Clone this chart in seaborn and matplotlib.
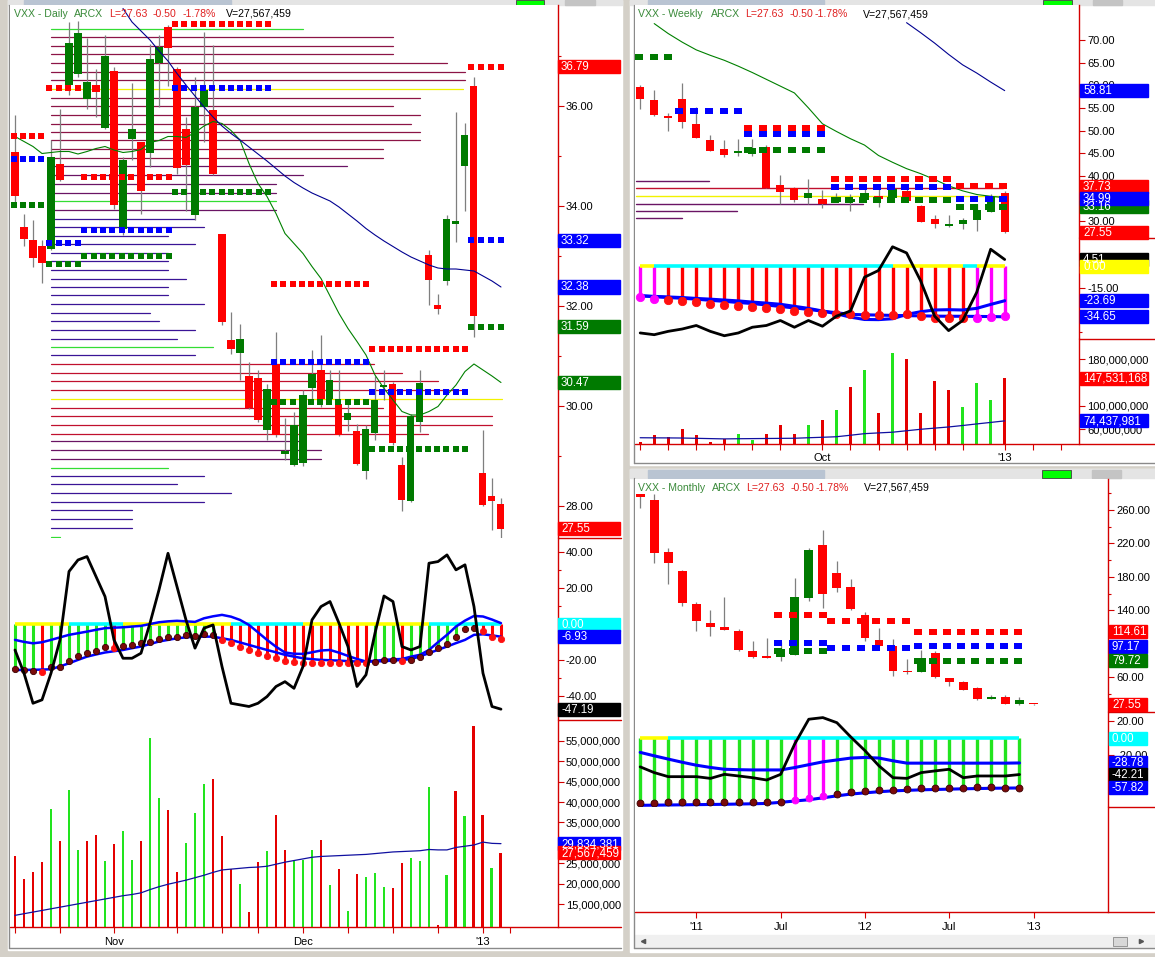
import numpy as np
import matplotlib
matplotlib.use("Agg")
import matplotlib.pyplot as plt
import seaborn as sns
from matplotlib.patches import Rectangle
from matplotlib.lines import Line2D
from matplotlib.ticker import FuncFormatter

# ---------------- daily ----------------
d_open = [35.09, 33.59, 33.33, 33.20, 33.15, 34.84, 36.42, 36.65, 36.15, 36.42,
          35.57, 36.71, 33.55, 35.35, 35.29, 35.07, 36.87, 37.59, 36.75, 35.54,
          33.82, 35.99, 35.92, 33.45, 31.32, 31.07, 30.60, 30.56, 29.52, 30.85,
          29.04, 28.83, 28.87, 30.37, 30.72, 30.15, 30.04, 29.72, 29.50, 28.71,
          29.47, 30.38, 30.44, 28.82, 28.11, 29.69, 33.02, 32.02, 32.50, 33.65,
          34.81, 36.40, 28.67, 28.20, 28.04]
d_high = [35.82, 33.85, 33.72, 33.32, 35.32, 35.95, 37.69, 37.71, 37.37, 36.75,
          37.42, 36.79, 34.99, 36.47, 35.29, 37.25, 37.42, 37.62, 36.79, 35.79,
          36.59, 37.49, 37.22, 33.45, 31.89, 31.64, 30.89, 30.72, 30.45, 31.49,
          29.77, 29.89, 30.32, 31.13, 31.42, 30.72, 30.72, 30.05, 29.65, 29.62,
          30.60, 30.72, 30.49, 28.99, 29.85, 30.72, 33.13, 32.25, 33.82, 35.89,
          35.67, 36.59, 29.53, 28.57, 28.17]
d_low = [34.05, 33.20, 32.79, 32.47, 33.13, 34.50, 36.22, 36.59, 35.95, 35.79,
         35.55, 33.95, 33.42, 34.92, 33.85, 34.79, 35.99, 36.40, 34.65, 33.91,
         33.73, 35.29, 34.62, 31.62, 31.05, 30.52, 29.95, 29.69, 29.32, 29.38,
         28.93, 28.81, 28.80, 30.15, 29.99, 30.12, 29.40, 29.50, 28.82, 28.55,
         29.32, 30.12, 29.22, 27.91, 28.09, 29.49, 32.02, 31.85, 32.42, 33.29,
         33.91, 31.39, 28.00, 27.52, 27.37]
d_close = [34.21, 33.35, 32.97, 32.87, 34.99, 34.52, 37.27, 37.47, 36.49, 36.29,
           37.00, 34.02, 34.92, 35.55, 34.31, 36.94, 37.19, 37.17, 34.77, 34.82,
           35.99, 36.33, 34.65, 31.69, 31.14, 31.34, 29.97, 29.73, 30.35, 29.42,
           29.11, 29.62, 30.23, 30.65, 30.15, 30.53, 29.42, 29.87, 28.84, 29.55,
           30.12, 30.42, 29.27, 28.12, 29.80, 30.47, 32.52, 31.95, 33.75, 33.71,
           35.42, 31.80, 28.02, 28.10, 27.55]
d_ma_fast = [35.39, 35.29, 35.19, 35.05, 35.07, 35.09, 35.09, 35.04, 35.09, 35.15,
             35.19, 35.12, 35.07, 35.09, 35.13, 35.27, 35.31, 35.39, 35.39, 35.37,
             35.47, 35.60, 35.69, 35.65, 35.51, 35.32, 34.85, 34.45, 34.19, 33.85,
             33.45, 33.25, 33.05, 32.79, 32.55, 32.20, 31.85, 31.55, 31.29, 31.02,
             30.62, 30.35, 30.12, 29.89, 29.82, 29.82, 29.89, 29.99, 30.22, 30.42,
             30.69, 30.84, 30.72, 30.60, 30.47]
# slow average is only on screen for the last 43 sessions
d_ma_slow = [37.95, 37.68, 37.50, 37.32, 37.10, 36.90, 36.65, 36.42, 36.20, 35.98,
             35.78, 35.60, 35.45, 35.32, 35.18, 35.04, 34.90, 34.75, 34.60, 34.47,
             34.36, 34.26, 34.18, 34.10, 33.98, 33.84, 33.70, 33.55, 33.42, 33.30,
             33.19, 33.08, 32.98, 32.90, 32.82, 32.76, 32.74, 32.74, 32.72, 32.70,
             32.60, 32.50, 32.38]
d_vol = [26.9, 21.2, 22.9, 25.3, 38.3, 30.5, 43.0, 28.3, 30.5, 32.0,
         25.6, 29.8, 33.0, 25.8, 30.5, 55.7, 41.0, 38.1, 22.9, 30.0,
         37.3, 44.4, 45.6, 31.7, 23.6, 20.0, 13.0, 25.3, 28.0, 36.8,
         28.3, 25.6, 25.8, 28.3, 30.7, 19.6, 23.6, 13.4, 22.4, 21.7,
         22.7, 19.2, 19.0, 25.1, 26.3, 25.6, 43.7, 10.0, 22.2, 42.7,
         36.6, 58.7, 36.8, 23.9, 27.57]
d_vol_ma = [12.3, 12.7, 13.1, 13.5, 13.9, 14.3, 14.7, 15.1, 15.5, 15.9,
            16.3, 16.7, 17.1, 17.4, 17.8, 18.6, 19.3, 19.9, 20.4, 20.9,
            21.5, 22.1, 22.8, 23.4, 23.6, 23.8, 24.0, 24.1, 24.3, 24.8,
            25.3, 25.7, 26.1, 26.5, 26.7, 26.8, 26.9, 27.0, 27.1, 27.2,
            27.4, 27.6, 27.8, 27.9, 28.0, 28.1, 28.4, 28.3, 28.3, 28.9,
            29.2, 29.5, 30.2, 29.9, 29.83]
d_osc = [-25.0, -25.4, -25.9, -26.7, -23.9, -23.5, -20.2, -17.6, -16.1, -14.8,
         -12.8, -13.3, -12.0, -11.7, -10.6, -9.6, -8.1, -6.9, -6.9, -5.9,
         -6.3, -5.4, -6.1, -8.7, -10.6, -12.4, -14.3, -16.1, -17.4, -18.9,
         -20.4, -20.9, -21.3, -21.3, -21.3, -21.3, -21.3, -21.3, -21.7, -21.7,
         -20.9, -19.8, -19.8, -20.2, -19.8, -18.0, -15.2, -13.1, -10.9, -6.9,
         -2.8, -2.2, -3.5, -6.9, -8.3]
d_osc_kind = ['g', 'g', 'g', 'r', 'g', 'g', 'g', 'g', 'g', 'g',
              'g', 'r', 'g', 'g', 'g', 'g', 'g', 'g', 'g', 'g',
              'g', 'g', 'g', 'r', 'r', 'r', 'r', 'r', 'r', 'r',
              'r', 'r', 'r', 'r', 'r', 'r', 'r', 'r', 'r', 'r',
              'g', 'g', 'g', 'r', 'g', 'g', 'g', 'g', 'g', 'g',
              'g', 'g', 'r', 'r', 'r']
d_sig1 = [-8.7, -9.8, -10.6, -10.0, -8.7, -7.3, -5.9, -5.0, -4.1, -3.1,
          -2.2, -1.9, -1.7, -1.3, -0.9, 0.1, 1.1, 1.6, 1.9, 1.6,
          1.3, 3.3, 4.4, 5.2, 4.2, 2.4, -0.4, -4.5, -8.7, -12.5,
          -15.7, -16.4, -16.5, -15.6, -14.6, -14.3, -15.8, -17.6, -19.3, -20.7,
          -20.3, -19.8, -19.5, -19.3, -18.0, -17.0, -14.3, -10.0, -5.9, -1.3,
          2.0, 4.6, 4.3, 2.6, 0.6]
d_sig2 = [-25.4, -25.4, -25.3, -25.2, -25.0, -23.4, -21.7, -19.8, -18.0, -16.8,
          -15.7, -15.0, -14.3, -13.3, -12.4, -11.0, -9.6, -8.7, -7.8, -7.3,
          -6.9, -6.9, -6.9, -7.8, -8.7, -10.1, -11.5, -12.9, -14.3, -15.6,
          -17.0, -18.0, -18.9, -19.4, -19.8, -20.0, -20.2, -20.5, -20.7, -20.7,
          -20.7, -20.5, -20.2, -19.8, -19.4, -17.8, -16.1, -14.2, -12.4, -10.5,
          -8.7, -5.9, -5.6, -6.2, -6.93]
d_cci = [-14.3, -27.2, -43.9, -42.0, -27.2, -8.7, 29.3, 35.7, 37.6, 26.5,
         15.4, -8.7, -18.9, -18.9, -16.1, 0.6, 19.1, 39.4, 20.9, 2.4,
         -13.3, -2.2, -0.4, -23.5, -43.9, -44.8, -45.7, -43.9, -40.2, -34.6,
         -31.9, -35.6, -23.5, 2.4, 9.8, 12.6, 0.6, -12.4, -34.6, -28.1,
         -5.0, 15.7, 12.6, -12.4, -14.3, -12.4, 33.9, 34.8, 38.5, 30.2,
         33.0, 9.8, -27.2, -45.7, -47.19]
d_zero_kind = ['y', 'y', 'y', 'y', 'y', 'y', 'y', 'c', 'c', 'c',
               'c', 'c', 'c', 'y', 'y', 'y', 'y', 'y', 'y', 'y',
               'y', 'y', 'y', 'y', 'y', 'c', 'c', 'c', 'c', 'c',
               'c', 'c', 'c', 'y', 'y', 'y', 'y', 'y', 'y', 'y',
               'y', 'y', 'y', 'y', 'y', 'y', 'y', 'c', 'c', 'c',
               'c', 'c', 'c', 'c', 'c']
# weekly pivot levels shown on the daily chart: start bar, end bar, R, P, S
d_piv_start = [-0.1, 3.8, 7.7, 17.8, 28.8, 39.7, 50.7]
d_piv_end = [2.9, 7.0, 17.1, 28.1, 39.0, 50.0, 54.0]
d_piv_r = [35.40, 36.37, 34.58, 37.64, 32.45, 31.14, 36.79]
d_piv_p = [34.94, 33.27, 33.52, 36.37, 30.88, 30.29, 33.32]
d_piv_s = [34.02, 32.85, 33.00, 34.28, 30.09, 29.14, 31.59]
# volume at price
d_vap_price = [37.54, 37.39, 37.21, 37.04, 36.86, 36.69, 36.52, 36.34, 36.17, 36.00,
               35.82, 35.65, 35.49, 35.32, 35.14, 34.97, 34.80, 34.62, 34.45, 34.27,
               34.10, 33.93, 33.75, 33.59, 33.41, 33.24, 33.07, 32.90, 32.73, 32.55,
               32.39, 32.22, 32.04, 31.87, 31.71, 31.52, 31.35, 31.19, 31.02, 30.84,
               30.67, 30.50, 30.32, 30.15, 29.97, 29.80, 29.63, 29.45, 29.30, 29.12,
               28.94, 28.77, 28.60, 28.44, 28.27, 28.09, 27.92, 27.75, 27.57, 27.39]
d_vap_len = [28, 38, 38, 38, 44, 46, 46, 45.8, 41, 38,
             41, 40, 41, 41, 36.9, 36.9, 32.9, 28, 25, 25,
             25, 25, 16, 17, 13, 16, 13, 13, 13, 15,
             13, 13, 17, 11, 12, 16, 14, 18, 16, 35.9,
             39, 43, 46, 50.1, 36.9, 49, 49, 41.9, 28, 30,
             30, 13, 17, 14, 20, 17, 9, 9, 9, 1]
d_vap_kind = ['g', 'r', 'r', 'r', 'r', 'r', 'r', 'y', 'r', 'r',
              'r', 'r', 'r', 'r', 'r', 'r', 'm', 'm', 'm', 'm',
              'g', 'm', 'b', 'b', 'b', 'b', 'b', 'b', 'b', 'b',
              'b', 'b', 'b', 'b', 'b', 'b', 'b', 'g', 'b', 'R',
              'R', 'R', 'R', 'y', 'R', 'R', 'R', 'R', 'm', 'm',
              'm', 'g', 'b', 'b', 'b', 'b', 'b', 'b', 'b', 'g']
d_ticks = [0, 5, 11, 18, 23, 27, 32, 37, 42, 47, 52, 55]
d_tick_labels = {11: 'Nov', 32: 'Dec', 52: "'13"}

# ---------------- weekly ----------------
w_open = [59.57, 56.66, 53.30, 57.03, 51.45, 48.02, 45.86, 45.11, 44.89, 46.38,
          38.03, 37.29, 35.05, 34.98, 34.23, 34.23, 34.60, 35.57, 35.20, 36.69,
          33.34, 30.50, 28.87, 29.47, 30.36, 32.00, 36.32]
w_high = [60.16, 59.05, 53.83, 60.54, 55.10, 48.99, 47.87, 48.24, 48.09, 46.90,
          40.20, 37.58, 39.30, 36.84, 36.32, 35.95, 37.06, 37.06, 37.44, 37.06,
          33.49, 31.47, 31.47, 30.73, 33.71, 35.95, 36.69]
w_low = [54.80, 53.30, 49.88, 50.63, 48.46, 45.48, 44.14, 44.37, 44.37, 37.44,
         33.70, 34.23, 33.86, 32.97, 34.23, 32.22, 34.60, 33.19, 34.83, 34.45,
         29.84, 28.50, 28.72, 28.27, 27.75, 32.00, 27.38]
w_close = [56.96, 53.46, 52.71, 51.82, 48.46, 45.48, 44.52, 45.26, 46.23, 37.44,
           36.54, 34.60, 36.17, 33.71, 35.35, 34.80, 36.32, 34.83, 37.06, 34.45,
           29.84, 29.39, 29.30, 30.36, 32.44, 35.35, 27.55]
w_ma_fast = [73.6, 71.4, 69.5, 67.8, 66.6, 65.5, 64.2, 62.8, 61.3, 59.8,
             58.3, 55.0, 51.5, 49.8, 48.2, 46.8, 44.5, 43.0, 41.6, 40.5,
             39.2, 37.8, 36.7, 35.9, 35.5, 35.2]
w_ma_slow = [73.8, 71.6, 69.3, 66.8, 64.5, 62.7, 60.7, 58.81]
w_vol = [38.0, 49.6, 46.7, 60.0, 49.6, 38.6, 42.6, 51.3, 40.9, 51.3,
         67.0, 51.3, 67.0, 75.7, 93.0, 132.5, 162.6, 87.2, 190.4, 180.0,
         87.2, 142.9, 127.8, 97.7, 139.4, 110.4, 147.53]
w_vol_ma = [45.5, 45.3, 45.2, 45.0, 44.5, 44.0, 43.5, 43.8, 44.0, 44.2,
            44.4, 44.6, 45.5, 46.3, 47.2, 49.8, 52.5, 53.8, 55.0, 57.5,
            60.0, 62.0, 64.0, 66.5, 69.2, 71.8, 74.44]
w_osc = [-21.0, -22.2, -23.1, -23.8, -24.5, -25.6, -26.3, -27.3, -28.2, -28.9,
         -29.6, -30.7, -31.6, -32.3, -33.0, -33.0, -33.3, -33.5, -33.3, -33.0,
         -34.2, -35.3, -35.6, -35.8, -35.6, -34.9, -34.4]
w_osc_kind = ['m', 'm', 'r', 'r', 'r', 'r', 'r', 'r', 'r', 'r',
              'r', 'r', 'r', 'r', 'r', 'r', 'r', 'r', 'r', 'r',
              'r', 'r', 'r', 'r', 'm', 'm', 'm']
w_sig1 = [-20.3, -20.7, -21.1, -21.5, -22.1, -22.6, -23.2, -23.8, -24.6, -25.3,
          -26.1, -27.5, -28.9, -30.7, -32.6, -34.9, -36.5, -36.6, -36.0, -33.0,
          -31.2, -30.0, -29.8, -30.0, -28.9, -26.2, -23.69]
w_sig2 = [-20.3, -20.9, -21.5, -22.0, -22.6, -23.4, -24.1, -24.9, -25.6, -26.6,
          -27.6, -28.6, -29.6, -30.8, -31.9, -33.0, -33.3, -33.5, -33.7, -33.9,
          -34.0, -34.2, -34.3, -34.3, -34.4, -34.5, -34.65]
w_cci = [-45.7, -46.9, -44.6, -43.0, -40.6, -44.6, -47.6, -45.7, -41.8, -40.6,
         -37.2, -41.8, -37.2, -41.1, -34.2, -30.7, -7.6, -3.0, 13.2, 9.0,
         -10.0, -34.2, -44.1, -37.2, -18.0, 11.5, 4.51]
w_zero_kind = ['y', 'y', 'c', 'c', 'c', 'c', 'c', 'c', 'c', 'c',
               'c', 'c', 'c', 'c', 'c', 'c', 'c', 'c', 'c', 'y',
               'y', 'y', 'y', 'y', 'c', 'y', 'y']
w_piv_start = [-0.1, 2.8, 7.7, 13.9, 22.8]
w_piv_end = [2.0, 7.0, 12.9, 21.9, 25.9]
w_piv_r = [np.nan, np.nan, 50.63, 39.30, 37.73]
w_piv_p = [np.nan, 54.35, 49.14, 37.66, 34.99]
w_piv_s = [66.27, np.nan, 45.78, 34.60, 33.16]
w_vap_price = [38.95, 37.23, 35.58, 33.88, 32.25, 30.75]
w_vap_len = [5.2, 26.2, 26.0, 16.2, 7.2, 3.3]
w_vap_kind = ['m', 'R', 'y', 'm', 'm', 'm']
w_ticks = [0, 2, 4, 6, 8, 10, 13, 15, 17, 19, 21, 23, 26, 28, 30]
w_tick_labels = {13: 'Oct', 26: "'13"}

# ---------------- monthly ----------------
m_open = [279.4, 271.3, 209.4, 187.5, 147.9, 124.4, 119.5, 114.7, 91.2, 85.1,
          83.9, 87.1, 155.1, 217.9, 185.1, 168.1, 134.9, 104.5, 97.2, 67.7,
          66.1, 89.2, 58.8, 53.9, 46.6, 34.5, 36.5, 28.4, 28.4]
m_high = [279.4, 279.4, 214.7, 188.3, 149.9, 139.8, 156.0, 117.5, 103.3, 107.4,
          102.5, 179.0, 214.7, 236.1, 198.5, 177.0, 137.7, 118.7, 105.3, 82.3,
          92.0, 91.2, 58.8, 55.5, 48.5, 38.5, 38.5, 36.5, 28.4]
m_low = [262.0, 196.4, 171.3, 144.6, 115.5, 109.4, 116.3, 91.2, 83.1, 83.1,
         79.0, 87.1, 151.0, 143.0, 162.0, 139.8, 103.3, 97.2, 62.0, 63.6,
         66.1, 59.6, 49.9, 44.6, 32.5, 34.0, 27.6, 26.4, 27.0]
m_close = [275.4, 208.6, 196.4, 149.1, 126.8, 119.5, 116.3, 92.0, 84.3, 83.1,
           93.2, 156.0, 212.6, 160.0, 166.1, 141.8, 106.6, 97.2, 66.9, 66.1,
           83.1, 60.8, 53.9, 44.6, 34.5, 36.5, 28.4, 32.5, 27.55]
m_osc = [-75.3, -75.3, -74.5, -74.5, -74.5, -74.5, -74.5, -74.5, -74.5, -74.5,
         -74.5, -72.2, -69.4, -67.5, -64.7, -62.4, -60.8, -60.4, -60.0, -58.8,
         -58.4, -58.0, -57.6, -57.3, -56.9, -56.9, -57.3, -57.6]
m_osc_kind = ['g', 'g', 'g', 'g', 'g', 'g', 'g', 'g', 'g', 'g',
              'g', 'm', 'm', 'm', 'g', 'g', 'g', 'g', 'g', 'g',
              'g', 'g', 'g', 'g', 'g', 'g', 'g', 'g']
m_sig1 = [-16.5, -20.5, -24.3, -28.0, -31.4, -34.0, -36.1, -36.6, -36.9, -36.9,
          -36.9, -34.1, -30.8, -27.5, -25.3, -23.1, -22.4, -23.1, -26.3, -29.0,
          -29.0, -29.0, -29.0, -29.0, -29.0, -29.0, -29.0, -28.78]
m_sig2 = [-78.0, -77.8, -77.6, -77.4, -77.2, -77.0, -76.8, -76.5, -76.2, -75.8,
          -74.5, -73.0, -71.5, -69.3, -67.0, -64.9, -63.5, -62.2, -61.2, -60.6,
          -60.0, -59.6, -59.2, -58.8, -58.5, -58.2, -58.0, -57.82]
m_cci = [-33.3, -40.0, -44.7, -44.7, -44.7, -46.7, -42.0, -43.9, -45.9, -48.6,
         -42.0, -6.7, 22.0, 23.9, 18.0, 1.2, -14.5, -32.2, -45.9, -46.7,
         -40.0, -38.0, -36.1, -45.9, -43.9, -43.9, -43.9, -42.21]
m_zero_kind = ['y', 'y', 'y', 'c', 'c', 'c', 'c', 'c', 'c', 'c',
               'c', 'c', 'c', 'c', 'c', 'c', 'c', 'c', 'c', 'c',
               'c', 'c', 'c', 'c', 'c', 'c', 'c', 'c']
m_piv_start = [9.8, 13.6, 19.8]
m_piv_end = [13.0, 18.9, 26.9]
m_piv_r = [134.1, 126.8, 114.61]
m_piv_p = [101.3, 95.2, 97.17]
m_piv_s = [91.2, np.nan, 79.72]
m_ticks = [4, 10, 16, 22, 28]
m_tick_labels = {4: "'11", 10: 'Jul', 16: "'12", 22: 'Jul', 28: "'13"}

# ---------------- style ----------------
sns.set_theme(style="white")
plt.rcParams['font.family'] = ['Liberation Sans', 'DejaVu Sans']

W, H = 1155, 957
AXRED = '#d40000'
CANDLE = {'up': '#007a00', 'dn': '#ff0000'}
VOLC = {'up': '#22e41e', 'dn': '#e40000'}
STEM = {'g': '#22e41e', 'r': '#ff0000', 'm': '#ff00ff'}
DOT = {'g': '#7a0a0a', 'r': '#ff1010', 'm': '#ff00ff'}
ZERO = {'y': '#ffff00', 'c': '#00ffff'}
VAPC = {'g': '#33dd33', 'y': '#f2f200', 'r': '#8c1446', 'R': '#c0102e',
        'm': '#6a1464', 'b': '#3a1496'}
PIVC = {'r': '#ff0000', 'p': '#0000ff', 's': '#007a00'}
BLUE = '#0000ff'
GRN_T = '#3a8a3a'
RED_T = '#e02020'

fig = plt.figure(figsize=(W / 100, H / 100), dpi=100, facecolor='#d4d0c8')


def frect(x0, y0, x1, y1, **kw):
    fig.add_artist(Rectangle((x0 / W, 1 - y1 / H), (x1 - x0) / W, (y1 - y0) / H,
                             transform=fig.transFigure, **kw))


def fline(x0, y0, x1, y1, **kw):
    fig.add_artist(Line2D([x0 / W, x1 / W], [1 - y0 / H, 1 - y1 / H],
                          transform=fig.transFigure, **kw))


def pane(x0, y0, x1, y1, xlim, ylim):
    ax = fig.add_axes([x0 / W, 1 - y1 / H, (x1 - x0) / W, (y1 - y0) / H])
    ax.set_facecolor('white')
    for s in ('left', 'top', 'bottom'):
        ax.spines[s].set_visible(False)
    ax.spines['right'].set_color(AXRED)
    ax.spines['right'].set_linewidth(1.0)
    ax.yaxis.tick_right()
    ax.tick_params(axis='y', which='both', right=True, left=False, colors=AXRED,
                   labelcolor='black', labelsize=8, length=4, width=0.8, pad=2)
    ax.tick_params(axis='y', which='minor', length=2.5)
    ax.set_xticks([])
    ax.lim = (xlim, ylim)
    return ax


def finish(ax):
    ax.set_xlim(*ax.lim[0])
    ax.set_ylim(*ax.lim[1])
    ax.set_xlabel('')
    ax.set_ylabel('')


def fmt(kind, hidden=()):
    # tick labels that sit under a value box in the reference stay blank
    def f(v, _):
        if any(abs(v - h) < 1e-9 for h in hidden):
            return ''
        return f'{v * 1e6:,.0f}' if kind == 'vol' else f'{v:.2f}'
    return FuncFormatter(f)


def candles(ax, o, h, l, c, width, minh):
    x = np.arange(len(o))
    o, h, l, c = map(np.asarray, (o, h, l, c))
    ax.vlines(x, l, h, color='#7f7f7f', lw=0.9, zorder=3)
    lo = np.minimum(o, c)
    hgt = np.maximum(np.abs(c - o), minh)
    cols = [CANDLE['up'] if cc >= oo else CANDLE['dn'] for oo, cc in zip(o, c)]
    ax.bar(x, hgt, bottom=lo, width=width, color=cols, linewidth=0, zorder=4)


def volume(ax, vol, ma, closes, width):
    x = np.arange(len(vol))
    prev = np.r_[np.inf, np.asarray(closes)[:-1]]
    cols = [VOLC['up'] if c > p else VOLC['dn'] for c, p in zip(closes, prev)]
    ax.bar(x, vol, width=width, color=cols, linewidth=0, zorder=3)
    sns.lineplot(x=np.arange(len(ma)), y=ma, ax=ax, color='#1010a0', linewidth=0.9,
                 errorbar=None, zorder=4)


def oscillator(ax, osc, kinds, sig1, sig2, cci, zero, stem_lw, dot_ms, sig_lw, dot_edge):
    x = np.arange(len(osc))
    ax.vlines(x, osc, 0, colors=[STEM[k] for k in kinds], lw=stem_lw, zorder=2)
    for i in range(1, len(zero)):
        ax.plot([i - 1, i], [0, 0], color=ZERO[zero[i]], lw=2.6, solid_capstyle='butt', zorder=3)
    sns.lineplot(x=x, y=sig1, ax=ax, color=BLUE, linewidth=sig_lw, errorbar=None, zorder=4)
    sns.lineplot(x=x, y=sig2, ax=ax, color=BLUE, linewidth=sig_lw, errorbar=None, zorder=4)
    for i, k in enumerate(kinds):
        ax.plot(i, osc[i], 'o', ms=dot_ms, color=DOT[k], mec=dot_edge.get(k, DOT[k]),
                mew=0.6, zorder=5)
    sns.lineplot(x=x, y=cci, ax=ax, color='black', linewidth=2.0, errorbar=None, zorder=6)


DASH = [(-1.35, -1.0), (1.35, -1.0), (1.35, 1.0), (-1.35, 1.0)]


def pivots(ax, starts, ends, r, p, s, ms):
    for st, en, rv, pv, sv in zip(starts, ends, r, p, s):
        n = int(round(en - st)) + 1
        xs = np.linspace(st, en, n)
        for val, key in ((rv, 'r'), (pv, 'p'), (sv, 's')):
            if np.isnan(val):
                continue
            ax.plot(xs, [val] * n, ls='none', marker=DASH, ms=ms, mew=0,
                    color=PIVC[key], zorder=6)


def vap(ax, prices, lens, kinds, start, lw):
    for pr, ln, k in zip(prices, lens, kinds):
        ax.plot([start, start + ln], [pr, pr], color=VAPC[k], lw=lw, zorder=1)


def tag(ax, v, txt, fc, x0, x1, tc='white'):
    py = ax.transData.transform((0, v))[1]
    fig.add_artist(Rectangle((x0 / W, (py - 6.5) / H), (x1 - x0) / W, 13 / H,
                             transform=fig.transFigure, color=fc, zorder=20))
    fig.text((x0 + 3) / W, (py - 0.5) / H, txt, color=tc, fontsize=8.3, va='center',
             ha='left', zorder=21)


def title(y, pieces):
    for x, txt, col in pieces:
        fig.text(x / W, 1 - y / H, txt, color=col, fontsize=7.6, va='center', ha='left', zorder=22)


def xaxis(ax, ticks, labels, y_line, x0, x1):
    ax.set_xticks(ticks)
    ax.set_xticklabels([labels.get(t, '') for t in ticks])
    ax.tick_params(axis='x', bottom=True, colors=AXRED, labelcolor='black',
                   labelsize=8, length=4, width=0.8, pad=3)
    fline(x0, y_line, x1, y_line, color=AXRED, lw=1.0, zorder=15)


# ---------------- window chrome ----------------
frect(8, 0, 622, 950, color='white', zorder=-5)
frect(630, 0, 1155, 465, color='white', zorder=-5)
frect(630, 469, 1155, 952, color='white', zorder=-5)
for (a, b, c, d) in [(8, 0, 622, 5), (630, 0, 1155, 5), (630, 469, 1155, 478)]:
    frect(a, b, c, d, color='#e4e4e4', zorder=-4)
frect(24, 0, 231, 5, color='#b9c4d2', zorder=-3)
frect(516, 0, 544, 5, color='#00ff00', ec='#404040', lw=0.6, zorder=-3)
frect(565, 0, 595, 5, color='#c4c4c4', zorder=-3)
frect(648, 0, 824, 5, color='#b9c4d2', zorder=-3)
frect(1043, 0, 1072, 5, color='#00ff00', ec='#404040', lw=0.6, zorder=-3)
frect(1093, 0, 1122, 5, color='#c4c4c4', zorder=-3)
frect(648, 470, 824, 478, color='#b9c4d2', zorder=-3)
frect(1042, 470, 1071, 478, color='#00ff00', ec='#404040', lw=0.6, zorder=-3)
frect(1092, 470, 1121, 478, color='#c4c4c4', zorder=-3)
frect(635, 935, 1155, 948, color='#f0f0f0', zorder=-3)
frect(1113, 937, 1127, 946, color='#d8d8d8', ec='#8a8a8a', lw=0.6, zorder=-2)
fig.add_artist(Line2D([643 / W], [1 - 941 / H], marker='<', ms=3, color='#555555',
                      transform=fig.transFigure))
fig.add_artist(Line2D([1141 / W], [1 - 941 / H], marker='>', ms=3, color='#555555',
                      transform=fig.transFigure))
for (a, b, c, d) in [(9, 5, 9, 948), (9, 948, 621, 948), (634, 5, 634, 463),
                     (634, 463, 1155, 463), (634, 478, 634, 948), (634, 948, 1155, 948)]:
    fline(a, b, c, d, color='#8a8a8a', lw=1.0, zorder=-1)

# ---------------- daily window ----------------
dx = (-0.556, 60.28)
ax = pane(10, 5, 557.5, 538, dx, (27.36, 38.02))
vap(ax, d_vap_price, d_vap_len, d_vap_kind, 4.0, 0.9)
sns.lineplot(x=np.arange(len(d_ma_fast)), y=d_ma_fast, ax=ax, color='#008000',
             linewidth=0.8, errorbar=None, zorder=5)
sns.lineplot(x=np.arange(len(d_open) - len(d_ma_slow), len(d_open)), y=d_ma_slow, ax=ax,
             color='#000090', linewidth=0.8, errorbar=None, zorder=5)
candles(ax, d_open, d_high, d_low, d_close, 0.78, 0.04)
pivots(ax, d_piv_start, d_piv_end, d_piv_r, d_piv_p, d_piv_s, 5.0)
ax.set_yticks([28, 30, 32, 34, 36])
ax.set_yticks([29, 31, 33, 35, 37], minor=True)
ax.yaxis.set_major_formatter(fmt('px'))
finish(ax)
for v, t, c in [(36.79, '36.79', '#ff0000'), (33.32, '33.32', BLUE), (32.38, '32.38', BLUE),
                (31.59, '31.59', '#007a00'), (30.47, '30.47', '#007a00'), (27.55, '27.55', '#ff0000')]:
    tag(ax, v, t, c, 558, 620)

ax = pane(10, 538, 557.5, 720, dx, (-53.2, 47.9))
oscillator(ax, d_osc, d_osc_kind, d_sig1, d_sig2, d_cci, d_zero_kind, 2.2, 4.5, 1.8,
           {'g': '#3a0000'})
ax.set_yticks([-40, -20, 0, 20, 40])
ax.set_yticks([-30, -10, 10, 30], minor=True)
ax.yaxis.set_major_formatter(fmt('px', (0,)))
finish(ax)
tag(ax, 0, '0.00', '#00ffff', 558, 620)
tag(ax, -6.93, '-6.93', BLUE, 558, 620)
tag(ax, -47.19, '-47.19', 'black', 558, 620)

ax = pane(10, 720, 557.5, 927, dx, (9.45, 60.06))
volume(ax, d_vol, d_vol_ma, d_close, 0.33)
ax.set_yticks([15, 20, 25, 30, 35, 40, 45, 50, 55])
ax.yaxis.set_major_formatter(fmt('vol', (30,)))
finish(ax)
xaxis(ax, d_ticks, d_tick_labels, 927, 10, 621)
tag(ax, 29.834381, '29,834,381', BLUE, 558, 620)
tag(ax, 27.567459, '27,567,459', '#ff0000', 558, 620)
for yy in (538, 720):
    fline(557.5, yy, 621, yy, color=AXRED, lw=1.0, zorder=15)

# ---------------- weekly window ----------------
wx = (-0.37, 31.3)
ax = pane(635, 5, 1079, 238, wx, (26.3, 77.7))
vap(ax, w_vap_price, w_vap_len, w_vap_kind, -0.3, 1.0)
sns.lineplot(x=np.arange(1, 1 + len(w_ma_fast)), y=w_ma_fast, ax=ax, color='#008000',
             linewidth=0.8, errorbar=None, zorder=5)
sns.lineplot(x=np.arange(len(w_open) - len(w_ma_slow), len(w_open)), y=w_ma_slow, ax=ax,
             color='#000090', linewidth=0.8, errorbar=None, zorder=5)
candles(ax, w_open, w_high, w_low, w_close, 0.58, 0.35)
pivots(ax, w_piv_start, w_piv_end, w_piv_r, w_piv_p, w_piv_s, 5.6)
ax.set_yticks([30, 35, 40, 45, 50, 55, 60, 65, 70])
ax.yaxis.set_major_formatter(fmt('px', (35,)))
finish(ax)
tag(ax, 58.81, '58.81', BLUE, 1080, 1148)
tag(ax, 37.73, '37.73', '#ff0000', 1080, 1148)
tag(ax, 33.16, '33.16', '#007a00', 1080, 1148)
tag(ax, 34.99, '34.99', BLUE, 1080, 1148)
tag(ax, 27.55, '27.55', '#ff0000', 1080, 1148)

ax = pane(635, 238, 1079, 338.8, wx, (-49.7, 19.2))
oscillator(ax, w_osc, w_osc_kind, w_sig1, w_sig2, w_cci, w_zero_kind, 2.4, 6, 2.2, {})
ax.set_yticks([-30, -15, 0])
ax.set_yticks([-45], minor=True)
ax.yaxis.set_major_formatter(fmt('px', (0, -30)))
finish(ax)
tag(ax, 4.51, '4.51', 'black', 1080, 1148)
tag(ax, 0, '0.00', '#ffff00', 1080, 1148)
tag(ax, -23.69, '-23.69', BLUE, 1080, 1148)
tag(ax, -34.65, '-34.65', BLUE, 1080, 1148)

ax = pane(635, 338.8, 1079, 443.5, wx, (35.6, 215.4))
volume(ax, w_vol, w_vol_ma, w_close, 0.24)
ax.set_yticks([60, 100, 140, 180])
ax.yaxis.set_major_formatter(fmt('vol', (140,)))
finish(ax)
xaxis(ax, w_ticks, w_tick_labels, 443.5, 635, 1155)
tag(ax, 147.531168, '147,531,168', '#ff0000', 1080, 1148)
tag(ax, 74.437981, '74,437,981', BLUE, 1080, 1148)
for yy in (238, 338.8):
    fline(1079, yy, 1155, yy, color=AXRED, lw=1.0, zorder=15)

# ---------------- monthly window ----------------
mx = (-0.37, 33.3)
ax = pane(635, 478.5, 1108, 712, mx, (18.4, 297.5))
candles(ax, m_open, m_high, m_low, m_close, 0.63, 1.5)
pivots(ax, m_piv_start, m_piv_end, m_piv_r, m_piv_p, m_piv_s, 5.6)
ax.set_yticks([60, 100, 140, 180, 220, 260])
ax.set_yticks([40, 80, 120, 160, 200, 240, 280], minor=True)
ax.yaxis.set_major_formatter(fmt('px', (100,)))
finish(ax)
tag(ax, 114.61, '114.61', '#ff0000', 1109, 1147)
tag(ax, 97.17, '97.17', BLUE, 1109, 1147)
tag(ax, 79.72, '79.72', '#007a00', 1109, 1147)
tag(ax, 27.55, '27.55', '#ff0000', 1109, 1147)

ax = pane(635, 712, 1108, 807.4, mx, (-80.4, 30.4))
oscillator(ax, m_osc, m_osc_kind, m_sig1, m_sig2, m_cci, m_zero_kind, 2.4, 5, 2.2,
           {'g': '#3a0000'})
ax.set_yticks([-20, 0, 20])
ax.yaxis.set_major_formatter(fmt('px', (0,)))
finish(ax)
tag(ax, 0, '0.00', '#00ffff', 1109, 1147)
tag(ax, -28.78, '-28.78', BLUE, 1109, 1147)
tag(ax, -42.21, '-42.21', 'black', 1109, 1147)
tag(ax, -57.82, '-57.82', BLUE, 1109, 1147)

ax = pane(635, 807.4, 1108, 912.2, mx, (0, 1))
finish(ax)
ax.set_yticks([])
xaxis(ax, m_ticks, m_tick_labels, 912.2, 635, 1155)
for yy in (712, 807.4):
    fline(1108, yy, 1155, yy, color=AXRED, lw=1.0, zorder=15)

# ---------------- titles ----------------
title(14, [(13.8, 'VXX - Daily', GRN_T), (74, 'ARCX', GRN_T), (109, 'L=27.63', RED_T),
           (153, '-0.50', RED_T), (183, '-1.78%', RED_T), (226, 'V=27,567,459', 'black')])
title(14.2, [(637.8, 'VXX - Weekly', GRN_T), (710.5, 'ARCX', GRN_T), (745.6, 'L=27.63', RED_T),
             (789.9, '-0.50', RED_T), (814.9, '-1.78%', RED_T), (862.5, 'V=27,567,459', 'black')])
title(487.6, [(637.8, 'VXX - Monthly', GRN_T), (712, 'ARCX', GRN_T), (746.6, 'L=27.63', RED_T),
              (790.5, '-0.50', RED_T), (815.9, '-1.78%', RED_T), (864.2, 'V=27,567,459', 'black')])

fig.savefig('out.png', dpi=100, facecolor=fig.get_facecolor())
